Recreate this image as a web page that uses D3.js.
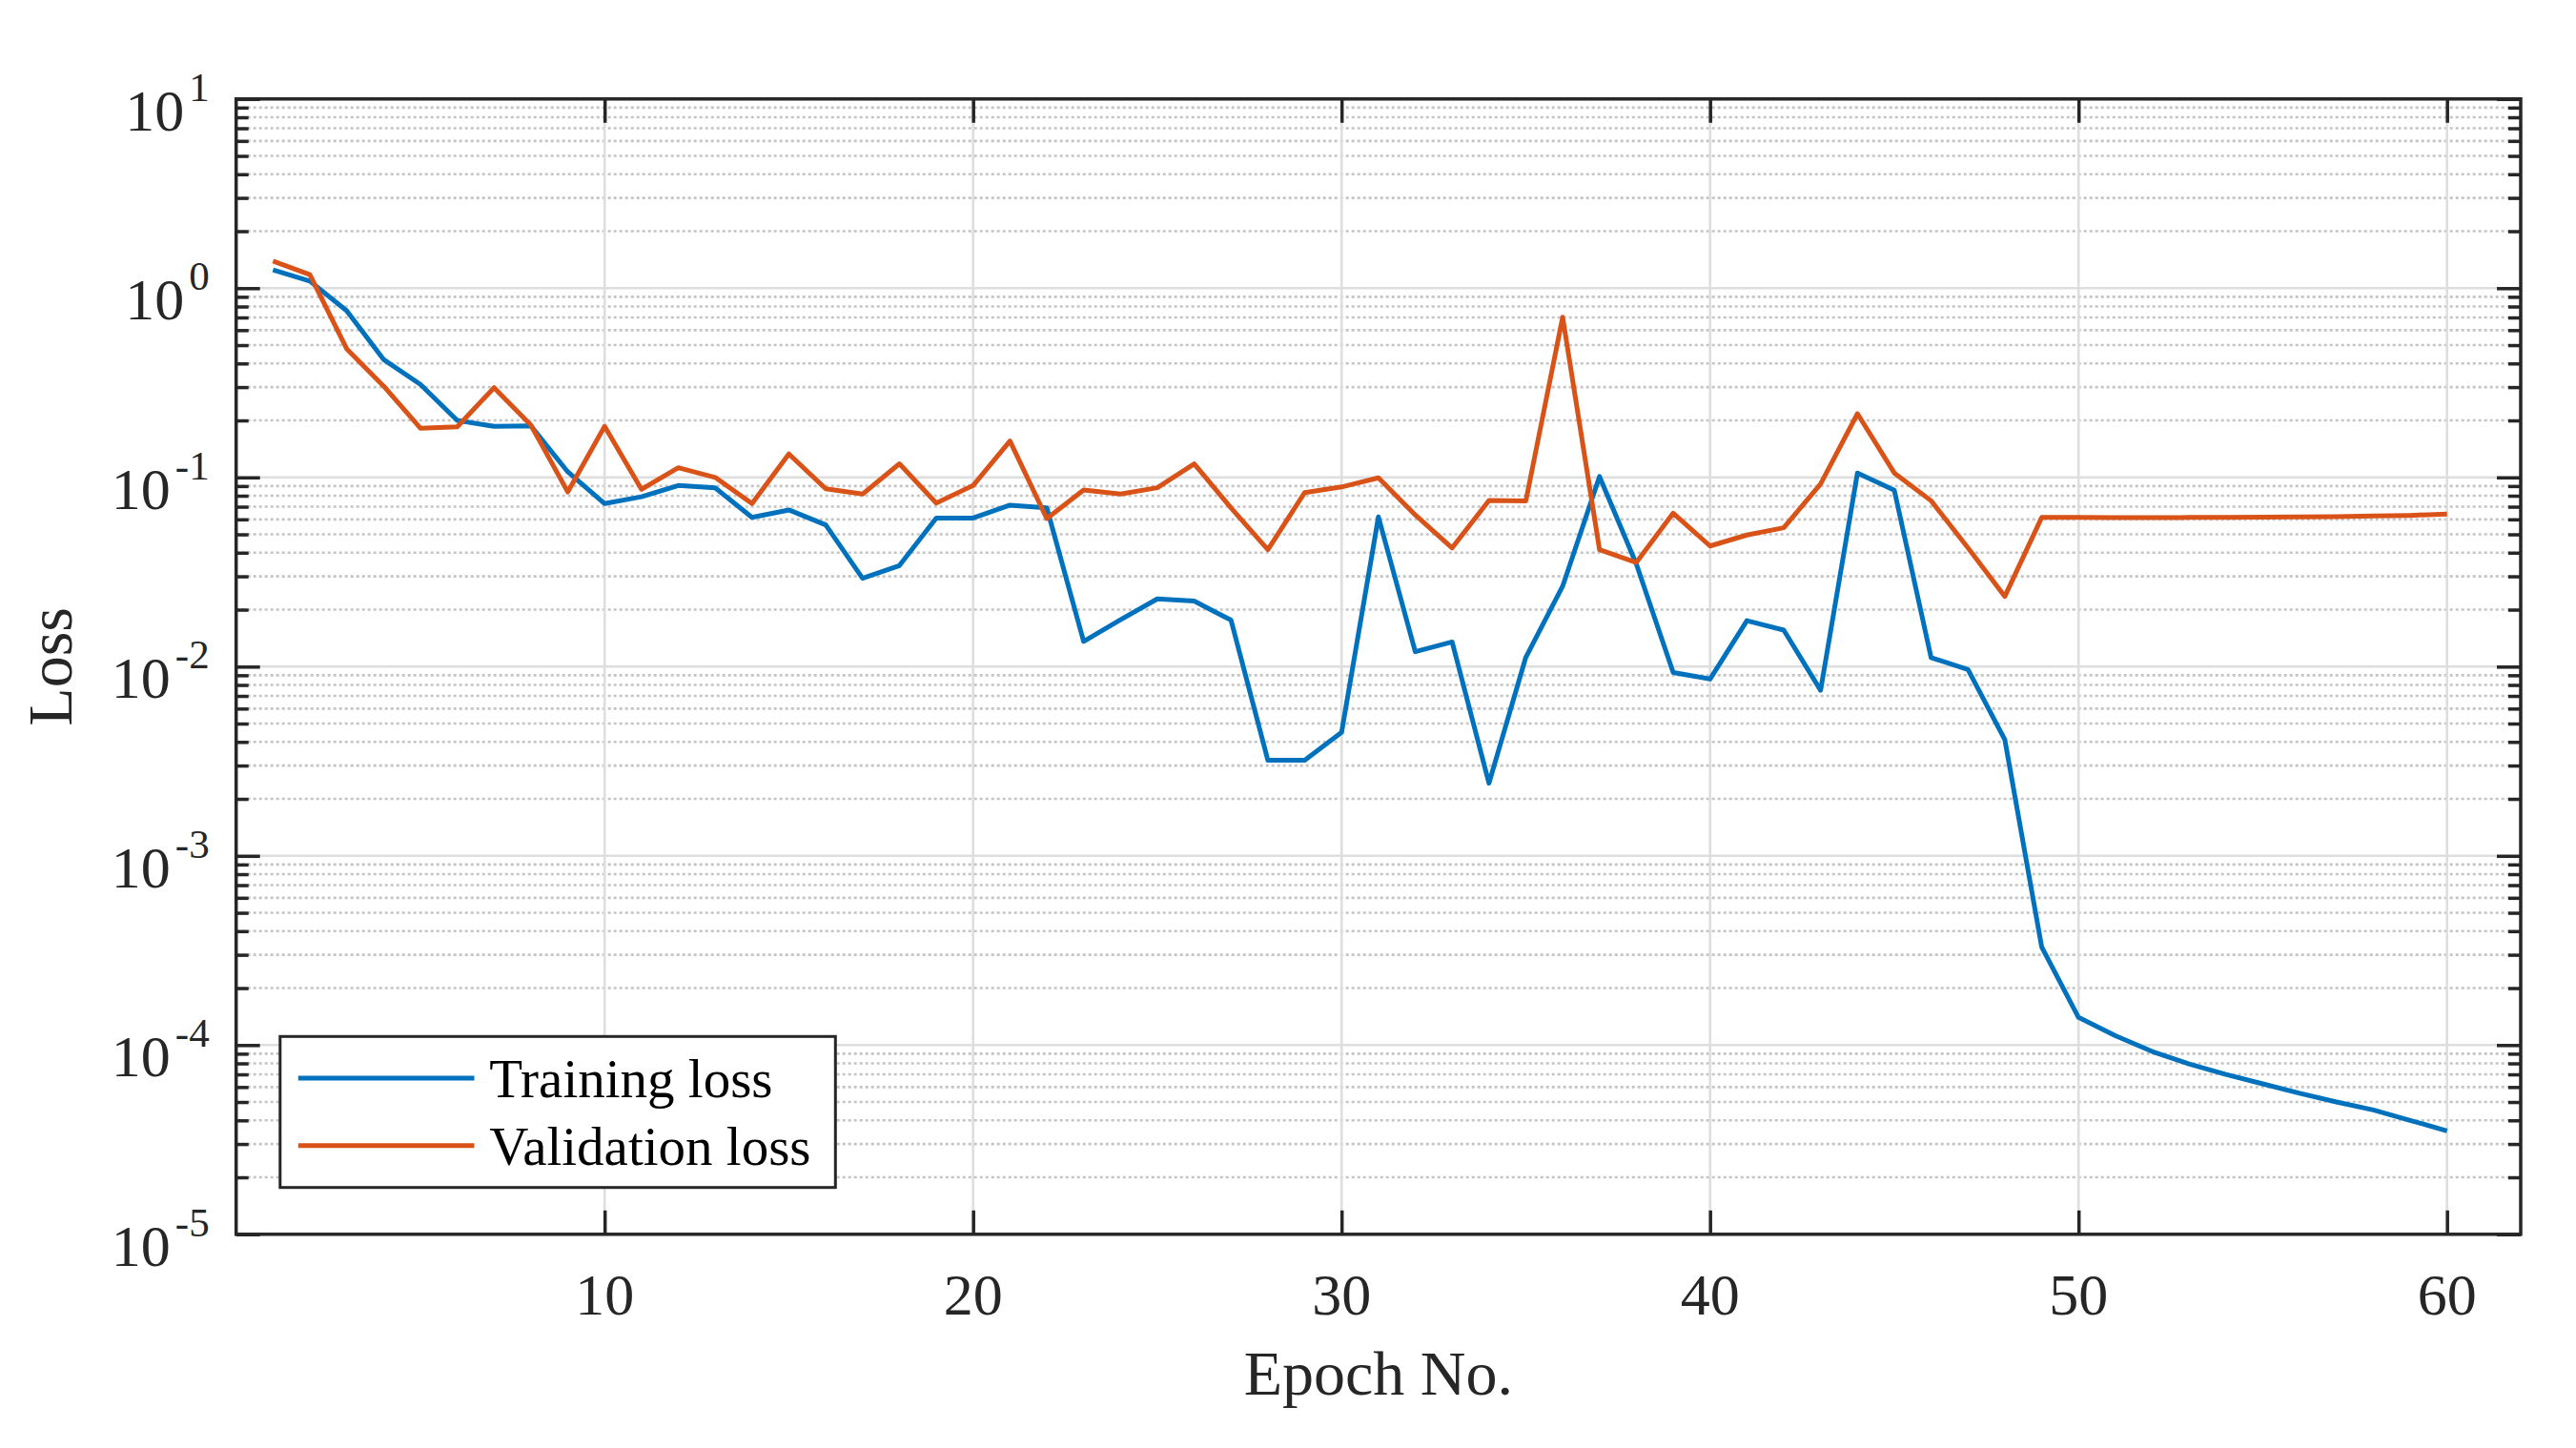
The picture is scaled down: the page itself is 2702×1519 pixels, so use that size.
<!DOCTYPE html>
<html>
<head>
<meta charset="utf-8">
<script src="https://cdn.jsdelivr.net/npm/d3@7"></script>
<style>
  html, body { margin: 0; padding: 0; background: #ffffff; }
  svg { display: block; }
  text { font-family: "Liberation Serif", "DejaVu Serif", serif; }
</style>
</head>
<body>
<script>
// ---------- data ----------
const epochs = d3.range(1, 61);
const trainingLoss = [
  1.25, 1.09, 0.76, 0.42, 0.31, 0.20, 0.186, 0.187, 0.107, 0.0727,
  0.079, 0.0906, 0.088, 0.0615, 0.0673, 0.0561, 0.0293, 0.0342, 0.061, 0.061,
  0.0713, 0.069, 0.0136, 0.0177, 0.0228, 0.0222, 0.0176, 0.0032, 0.0032, 0.00449,
  0.0618, 0.012, 0.0135, 0.00242, 0.0112, 0.0266, 0.101, 0.0348, 0.0093, 0.0086,
  0.0175, 0.0156, 0.0075, 0.1055, 0.0856, 0.01115, 0.00964, 0.00411, 0.00033, 0.00014,
  0.000112, 0.0000925, 0.0000794, 0.00007, 0.0000624, 0.0000556, 0.00005, 0.0000454, 0.00004, 0.0000352
];
const validationLoss = [
  1.39, 1.18, 0.478, 0.304, 0.182, 0.185, 0.298, 0.189, 0.0838, 0.186,
  0.0865, 0.1125, 0.1, 0.0727, 0.133, 0.0871, 0.0816, 0.118, 0.0732, 0.0906,
  0.1556, 0.0606, 0.0858, 0.0816, 0.0882, 0.118, 0.069, 0.0415, 0.0832, 0.089,
  0.0995, 0.0633, 0.0424, 0.0756, 0.075, 0.702, 0.0415, 0.0355, 0.0647, 0.0434,
  0.0496, 0.0542, 0.0923, 0.217, 0.1055, 0.0752, 0.0424, 0.0235, 0.0614, 0.0614,
  0.0613, 0.0613, 0.0614, 0.0615, 0.0616, 0.0618, 0.062, 0.0625, 0.063, 0.0641
];
const seriesNames = ["Training loss", "Validation loss"];
const xTickValues = [10, 20, 30, 40, 50, 60];
const yTickExponents = [-5, -4, -3, -2, -1, 0, 1];
const xLabel = "Epoch No.";
const yLabel = "Loss";

// ---------- layout ----------
const W = 2702, H = 1519;
const L = 247.7, R = 2644, T = 103.8, B = 1294.8;
const colors = ["#0072BD", "#D95319"];
const axisColor = "#262626";

const svg = d3.select("body").append("svg").attr("width", W).attr("height", H);

const x = d3.scaleLinear().domain([0, 62]).range([L, R]);
const y = d3.scaleLog().domain([1e-5, 10]).range([B, T]);

const majorY = yTickExponents.map(e => Math.pow(10, e));
const allY = y.ticks();
const minorY = allY.filter(v => Math.abs(Math.log10(v) - Math.round(Math.log10(v))) > 1e-6);

// ---------- grid ----------
const grid = svg.append("g");
grid.selectAll("line.minor").data(minorY).join("line")
  .attr("x1", L).attr("x2", R)
  .attr("y1", d => y(d)).attr("y2", d => y(d))
  .attr("stroke", "#c4c4c4").attr("stroke-width", 2.6)
  .attr("stroke-dasharray", "3,3");
grid.selectAll("line.majy").data(majorY).join("line")
  .attr("x1", L).attr("x2", R)
  .attr("y1", d => y(d)).attr("y2", d => y(d))
  .attr("stroke", "#dedede").attr("stroke-width", 2.6);
grid.selectAll("line.majx").data(xTickValues).join("line")
  .attr("y1", T).attr("y2", B)
  .attr("x1", d => x(d)).attr("x2", d => x(d))
  .attr("stroke", "#dedede").attr("stroke-width", 2.6);

// ---------- data lines ----------
const line = d3.line().x((d, i) => x(epochs[i])).y(d => y(d));
[trainingLoss, validationLoss].forEach((s, k) => {
  svg.append("path").datum(s)
    .attr("d", line)
    .attr("fill", "none")
    .attr("stroke", colors[k])
    .attr("stroke-width", 5)
    .attr("stroke-linejoin", "round");
});

// ---------- axes (ticks inward) ----------
function styleAxis(g) {
  g.select(".domain").remove();
  g.selectAll(".tick line").attr("stroke", axisColor).attr("stroke-width", 3.5);
  g.selectAll(".tick text").remove();
}
svg.append("g").attr("transform", `translate(0,${B})`)
  .call(d3.axisBottom(x).tickValues(xTickValues).tickSize(-25).tickFormat(""))
  .call(styleAxis);
svg.append("g").attr("transform", `translate(0,${T})`)
  .call(d3.axisTop(x).tickValues(xTickValues).tickSize(-25).tickFormat(""))
  .call(styleAxis);
svg.append("g").attr("transform", `translate(${L},0)`)
  .call(d3.axisLeft(y).tickValues(majorY).tickSize(-25).tickFormat(""))
  .call(styleAxis);
svg.append("g").attr("transform", `translate(${L},0)`)
  .call(d3.axisLeft(y).tickValues(minorY).tickSize(-13).tickFormat(""))
  .call(styleAxis);
svg.append("g").attr("transform", `translate(${R},0)`)
  .call(d3.axisRight(y).tickValues(majorY).tickSize(-25).tickFormat(""))
  .call(styleAxis);
svg.append("g").attr("transform", `translate(${R},0)`)
  .call(d3.axisRight(y).tickValues(minorY).tickSize(-13).tickFormat(""))
  .call(styleAxis);

// frame
svg.append("rect")
  .attr("x", L).attr("y", T).attr("width", R - L).attr("height", B - T)
  .attr("fill", "none").attr("stroke", axisColor).attr("stroke-width", 3.5);

// ---------- tick labels ----------
svg.append("g").selectAll("text").data(xTickValues).join("text")
  .attr("x", d => x(d)).attr("y", B + 84)
  .attr("text-anchor", "middle")
  .attr("font-size", 62).attr("fill", axisColor)
  .text(d => d);

const yl = svg.append("g").selectAll("text").data(yTickExponents).join("text")
  .attr("x", L - 28).attr("y", d => y(Math.pow(10, d)) + 33)
  .attr("text-anchor", "end")
  .attr("fill", axisColor);
yl.append("tspan").attr("font-size", 62).text("10");
yl.append("tspan").attr("font-size", 43).attr("dx", 5).attr("dy", -31).text(d => d < 0 ? "-" + (-d) : String(d));

// ---------- axis labels ----------
svg.append("text")
  .attr("x", (L + R) / 2).attr("y", 1463)
  .attr("text-anchor", "middle").attr("font-size", 66).attr("fill", axisColor)
  .text(xLabel);
svg.append("text")
  .attr("transform", `translate(75,${(T + B) / 2}) rotate(-90)`)
  .attr("text-anchor", "middle").attr("font-size", 66).attr("fill", axisColor)
  .text(yLabel);

// ---------- legend ----------
const lg = svg.append("g");
lg.append("rect")
  .attr("x", 293.8).attr("y", 1087.3).attr("width", 582.5).attr("height", 158.4)
  .attr("fill", "#ffffff").attr("stroke", axisColor).attr("stroke-width", 3);
const rowsY = [1131, 1201.7];
seriesNames.forEach((name, k) => {
  lg.append("line")
    .attr("x1", 312.8).attr("x2", 497.5)
    .attr("y1", rowsY[k]).attr("y2", rowsY[k])
    .attr("stroke", colors[k]).attr("stroke-width", 5);
  lg.append("text")
    .attr("x", 513.3).attr("y", rowsY[k] + 20)
    .attr("font-size", 57).attr("fill", "#000000")
    .text(name);
});
</script>
</body>
</html>
